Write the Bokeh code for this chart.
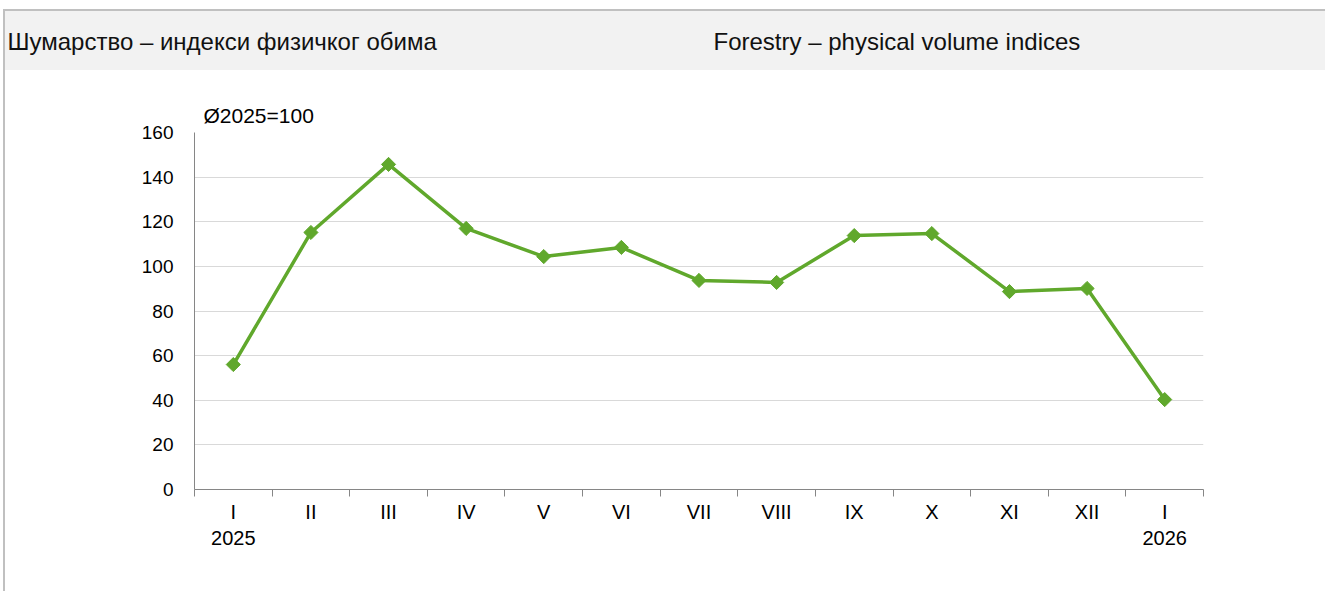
import math
from bokeh.plotting import figure
from bokeh.layouts import column, row
from bokeh.models import Range1d, FixedTicker, Label, Title
from bokeh.embed import file_html
from bokeh.resources import INLINE

title_sr = "Шумарство – индекси физичког обима"
title_en = "Forestry – physical volume indices"
unit_label = "Ø2025=100"
months = ["I\n2025", "II", "III", "IV", "V", "VI", "VII", "VIII", "IX", "X", "XI", "XII", "I\n2026"]
values = [56.0, 115.2, 145.7, 117.0, 104.4, 108.5, 93.7, 92.8, 113.8, 114.7, 88.7, 90.1, 40.3]
y_ticks = [0, 20, 40, 60, 80, 100, 120, 140, 160]

FONT = "Liberation Sans"
GREEN = "#60a82c"
AXIS = "#868686"
HDR_BG = "#f2f2f2"

W = 1320
HH = 59


def header_part(width, text):
    f = figure(width=width, height=HH, output_backend="svg", toolbar_location=None,
               x_range=Range1d(0, width), y_range=Range1d(0, HH), min_border=0,
               background_fill_color=HDR_BG, border_fill_color=HDR_BG)
    f.axis.visible = False
    f.grid.visible = False
    f.outline_line_color = None
    f.add_layout(Label(x=2, y=29, text=text, text_font=FONT, text_font_size="24px",
                       text_color="#111111", text_baseline="middle", text_align="left"))
    return f


hdr = row(header_part(706, title_sr), header_part(W - 706, title_en), spacing=0,
          styles={"background-color": HDR_BG})

# Chart
n = len(months)
xs = [i + 0.5 for i in range(n)]
p = figure(width=W, height=521, output_backend="svg", toolbar_location=None,
           x_range=Range1d(0, n), y_range=Range1d(y_ticks[0], y_ticks[-1]),
           min_border_left=189, min_border_right=122, min_border_top=62, min_border_bottom=102,
           background_fill_color="white", border_fill_color="white")
p.outline_line_color = None
p.xgrid.visible = False
p.ygrid.grid_line_color = "#d9d9d9"
p.ygrid.grid_line_width = 1

p.add_layout(Title(text=unit_label, align="left", offset=9, standoff=12,
                   text_font=FONT, text_font_size="21px", text_font_style="normal",
                   text_color="#000000"), "above")

p.yaxis.ticker = FixedTicker(ticks=y_ticks)
p.yaxis.axis_line_color = AXIS
p.yaxis.major_tick_out = 0
p.yaxis.major_tick_in = 0
p.yaxis.minor_tick_out = 0
p.yaxis.minor_tick_in = 0
p.yaxis.major_label_standoff = 21
p.yaxis.major_label_text_font = FONT
p.yaxis.major_label_text_font_size = "19px"
p.yaxis.major_label_text_color = "#000000"

p.xaxis.ticker = FixedTicker(ticks=xs, minor_ticks=list(range(n + 1)))
p.xaxis.major_label_overrides = {x: m for x, m in zip(xs, months)}
p.xaxis.axis_line_color = AXIS
p.xaxis.major_tick_out = 0
p.xaxis.major_tick_in = 0
p.xaxis.minor_tick_out = 7
p.xaxis.minor_tick_in = 0
p.xaxis.minor_tick_line_color = AXIS
p.xaxis.major_label_standoff = 4
p.xaxis.major_label_text_font = FONT
p.xaxis.major_label_text_font_size = "20px"
p.xaxis.major_label_text_color = "#000000"

p.line(xs, values, line_color=GREEN, line_width=3.5)
p.scatter(xs, values, marker="square", angle=math.pi / 4, size=10,
          fill_color=GREEN, line_color=GREEN)

layout = column(hdr, p, spacing=0, margin=(9, 0, 0, 3),
                styles={"border-left": "2px solid #c0c0c0", "border-top": "2px solid #c0c0c0"})

open("out.html", "w").write(file_html(layout, INLINE))
